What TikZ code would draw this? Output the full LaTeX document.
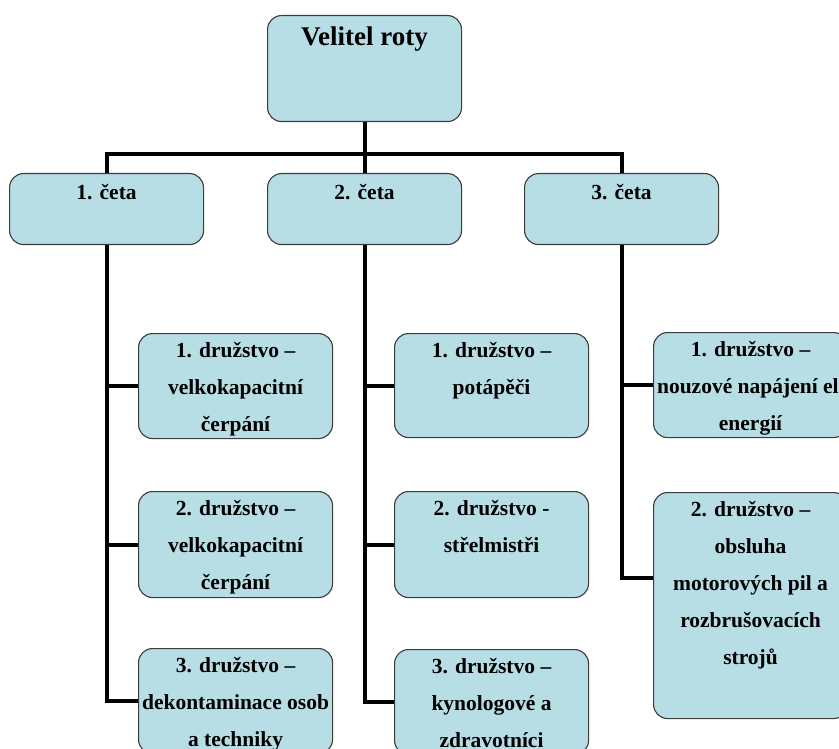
\documentclass[tikz,border=0pt]{standalone}
\usepackage{fontspec}
\setmainfont{Liberation Serif}
\definecolor{boxfill}{RGB}{183,221,229}
\definecolor{boxline}{RGB}{60,60,60}
\tikzset{
  box/.style={draw=boxline, fill=boxfill, line width=1.1pt, rounded corners=14pt,
    anchor=north west, inner sep=0pt, minimum width=194pt},
  txt/.style={anchor=north, align=center, inner sep=0pt,
    font=\bfseries\fontsize{21.5}{36.8}\selectfont},
  conn/.style={line width=4pt, black},
}
% #1 box name, #2 text node name, #3 shift, #4 extra style, #5 text
\newcommand\boxtext[5]{%
  \begin{scope}
    \clip[rounded corners=14pt] (#1.north west) rectangle (#1.south east);
    \node[txt,#4] (#2) at ([yshift=#3]#1.north) {\strut #5};
  \end{scope}}
\begin{document}
\begin{tikzpicture}[x=1pt,y=-1pt]
\useasboundingbox (0,0) rectangle (839,749);
\clip (0,0) rectangle (839,749);

% boxes
\node[box, minimum height=106pt] (v) at (267,15) {};
\node[box, minimum height=71pt] (c1) at (9,173) {};
\node[box, minimum height=71pt] (c2) at (267,173) {};
\node[box, minimum height=71pt] (c3) at (524,173) {};
\node[box, minimum height=105pt] (d11) at (138,333) {};
\node[box, minimum height=106pt] (d12) at (138,491) {};
\node[box, minimum height=105pt] (d13) at (138,648) {};
\node[box, minimum height=104pt] (d21) at (394,333) {};
\node[box, minimum height=106pt] (d22) at (394,491) {};
\node[box, minimum height=105pt] (d23) at (394,649) {};
\node[box, minimum height=105pt] (e1) at (653,332) {};
\node[box, minimum height=226pt] (e2) at (653,492) {};

% texts
\boxtext{v}{tv}{-4pt}{font=\bfseries\fontsize{27}{37}\selectfont}{Velitel roty}
\boxtext{c1}{tc1}{-1pt}{}{1. četa}
\boxtext{c2}{tc2}{-1pt}{}{2. četa}
\boxtext{c3}{tc3}{-1pt}{}{3. četa}
\boxtext{d11}{t11}{1pt}{}{1. družstvo --\\velkokapacitní\\čerpání}
\boxtext{d12}{t12}{1pt}{}{2. družstvo --\\velkokapacitní\\čerpání}
\boxtext{d13}{t13}{1pt}{}{3. družstvo --\\dekontaminace osob\\a techniky}
\boxtext{d21}{t21}{1pt}{}{1. družstvo --\\potápěči}
\boxtext{d22}{t22}{1pt}{}{2. družstvo -\\střelmistři}
\boxtext{d23}{t23}{1pt}{}{3. družstvo --\\kynologové a\\zdravotníci}
\boxtext{e1}{t31}{1pt}{}{1. družstvo --\\nouzové napájení el.\\energií}
\boxtext{e2}{t32}{1pt}{}{2. družstvo --\\obsluha\\motorových pil a\\rozbrušovacích\\strojů}

% connectors
\draw[conn] (v.south) -- (c2.north);
\draw[conn] (c1.north) -- ([yshift=19pt]c1.north) -| (c3.north);
\draw[conn] (c1.south) |- (d13.west);
\draw[conn] (c1.south |- d11.west) -- (d11.west);
\draw[conn] (c1.south |- d12.west) -- (d12.west);
\draw[conn] (c2.south) |- (d23.west);
\draw[conn] (c2.south |- d21.west) -- (d21.west);
\draw[conn] (c2.south |- d22.west) -- (d22.west);
\draw[conn] (c3.south) |- ([yshift=28pt]e2.west);
\draw[conn] (c3.south |- e1.west) -- (e1.west);
\end{tikzpicture}
\end{document}
